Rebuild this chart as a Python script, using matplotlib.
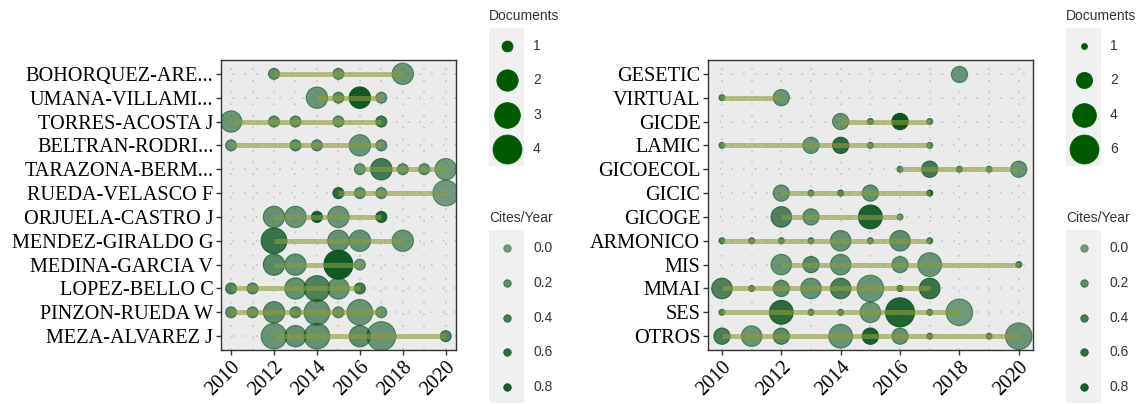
import numpy as np
import matplotlib.pyplot as plt
import matplotlib.colors as mcolors

# Left panel: authors
left_names = ["BOHORQUEZ-ARE...", "UMANA-VILLAMI...", "TORRES-ACOSTA J", "BELTRAN-RODRI...",
              "TARAZONA-BERM...", "RUEDA-VELASCO F", "ORJUELA-CASTRO J", "MENDEZ-GIRALDO G",
              "MEDINA-GARCIA V", "LOPEZ-BELLO C", "PINZON-RUEDA W", "MEZA-ALVAREZ J"]
left_years = [[2012, 2015, 2018], [2014, 2015, 2016, 2017], [2010, 2012, 2013, 2015, 2017],
              [2010, 2013, 2014, 2016, 2017], [2016, 2017, 2018, 2019, 2020], [2015, 2016, 2017, 2020],
              [2012, 2013, 2014, 2015, 2017], [2012, 2015, 2016, 2018], [2012, 2013, 2015, 2016],
              [2010, 2011, 2013, 2014, 2015, 2016], [2010, 2011, 2012, 2013, 2014, 2015, 2016, 2017],
              [2012, 2013, 2014, 2016, 2017, 2020]]
left_docs = [[1, 1, 2], [2, 1, 2, 1], [2, 1, 1, 1, 1], [1, 1, 1, 2, 1], [1, 2, 1, 1, 2], [1, 1, 1, 3],
             [2, 2, 1, 2, 1], [3, 2, 2, 2], [2, 2, 4, 1], [1, 1, 2, 3, 2, 1], [1, 1, 2, 1, 3, 1, 3, 1],
             [3, 2, 3, 2, 4, 1]]
left_tcpy = [[0.15, 0.1, 0.05], [0.05, 0.15, 0.85, 0.05], [0.05, 0.15, 0.15, 0.1, 0.4],
             [0.1, 0.2, 0.15, 0.05, 0.1], [0.05, 0.4, 0.1, 0.1, 0.0], [0.6, 0.1, 0.1, 0.0],
             [0.1, 0.05, 0.8, 0.05, 0.7], [0.5, 0.1, 0.1, 0.05], [0.2, 0.1, 0.85, 0.0],
             [0.3, 0.2, 0.1, 0.3, 0.1, 0.4], [0.15, 0.15, 0.15, 0.2, 0.1, 0.1, 0.05, 0.05],
             [0.05, 0.1, 0.1, 0.15, 0.05, 0.3]]

# Right panel: groups
right_names = ["GESETIC", "VIRTUAL", "GICDE", "LAMIC", "GICOECOL", "GICIC", "GICOGE",
               "ARMONICO", "MIS", "MMAI", "SES", "OTROS"]
right_years = [[2018], [2010, 2012], [2014, 2015, 2016, 2017], [2010, 2013, 2014, 2015, 2017],
               [2016, 2017, 2018, 2019, 2020], [2012, 2013, 2014, 2015, 2017], [2012, 2013, 2015, 2016],
               [2010, 2011, 2012, 2013, 2014, 2015, 2016, 2017], [2012, 2013, 2014, 2016, 2017, 2020],
               [2010, 2011, 2012, 2013, 2014, 2015, 2016, 2017],
               [2010, 2012, 2013, 2014, 2015, 2016, 2017, 2018],
               [2010, 2011, 2012, 2014, 2015, 2016, 2017, 2019, 2020]]
right_docs = [[2], [1, 2], [2, 1, 2, 1], [1, 2, 2, 1, 1], [1, 2, 1, 1, 2], [2, 1, 1, 2, 1], [3, 2, 4, 1],
              [1, 1, 1, 1, 3, 1, 3, 1], [3, 2, 3, 2, 4, 1], [3, 1, 2, 3, 3, 5, 1, 3],
              [1, 4, 1, 1, 3, 6, 1, 5], [2, 3, 2, 4, 2, 2, 1, 1, 5]]
right_tcpy = [[0.05], [0.2, 0.05], [0.05, 0.3, 0.9, 0.2], [0.2, 0.05, 0.6, 0.3, 0.2],
              [0.2, 0.4, 0.3, 0.3, 0.05], [0.05, 0.3, 0.6, 0.1, 0.7], [0.3, 0.1, 0.75, 0.1],
              [0.3, 0.3, 0.3, 0.3, 0.1, 0.3, 0.15, 0.3], [0.05, 0.2, 0.1, 0.1, 0.05, 0.3],
              [0.3, 0.3, 0.15, 0.1, 0.35, 0.05, 0.6, 0.5],
              [0.2, 0.6, 0.3, 0.3, 0.05, 0.7, 0.3, 0.0],
              [0.35, 0.05, 0.2, 0.05, 0.75, 0.1, 0.3, 0.3, 0.05]]

left_size_breaks = [1, 2, 3, 4]
right_size_breaks = [1, 2, 4, 6]
alpha_breaks = [0.0, 0.2, 0.4, 0.6, 0.8]

W, H = 1145, 404
PT = 72 / 100  # points per pixel
base = np.array(mcolors.to_rgb("#0b5520"))
line_col = "#8c9c3e"


def diam_px(d, dmax, dmin_px, dmax_px=29):
    return dmin_px + (dmax_px - dmin_px) * np.sqrt((np.asarray(d) - 1) / (dmax - 1))


def alpha_of(c):
    return 0.55 + 0.45 * np.clip(np.asarray(c) / 0.9, 0, 1)


def rgba(c):
    a = alpha_of(c)
    return [(base[0], base[1], base[2], ai) for ai in np.atleast_1d(a)]


def panel(rect, names, years, docs, tcpy, dmax, dmin_px):
    ax = fig.add_axes(rect)
    ax.set_facecolor("#ebebeb")
    n = len(names)
    ypos = np.arange(n)[::-1]
    for yr in range(2010, 2021):
        ax.axvline(yr, color="#c6c6c6", lw=1.2, ls=(0, (1, 6)), zorder=0)
    for y in ypos:
        ax.axhline(y, color="#c6c6c6", lw=1.2, ls=(0, (1, 6)), zorder=0)
    for y, yr, d, c in zip(ypos, years, docs, tcpy):
        s = (diam_px(d, dmax, dmin_px) * PT) ** 2
        cols = rgba(c)
        ax.scatter(yr, [y] * len(yr), s=s, c=cols, edgecolors=cols, linewidths=0.8, zorder=2)
        ax.plot([min(yr), max(yr)], [y, y], color=line_col, alpha=0.6, lw=3.6,
                solid_capstyle="butt", zorder=3)
    ax.set_xlim(2009.53, 2020.48)
    ax.set_ylim(-0.58, n - 0.42)
    ax.set_yticks(ypos)
    ax.set_yticklabels(names, fontfamily="Liberation Serif", fontsize=14.6, color="black")
    ax.set_xticks(range(2010, 2021, 2))
    ax.set_xticklabels([str(v) for v in range(2010, 2021, 2)], fontfamily="Liberation Serif",
                       fontsize=14.5, rotation=45, ha="right", va="top", rotation_mode="anchor")
    ax.tick_params(length=3.5, width=1, color="#333333", pad=2)
    for sp in ax.spines.values():
        sp.set_color("#333333")
        sp.set_linewidth(1)
    return ax


def legend(x0, breaks, dmax, dmin_px):
    # x0: left pixel of the key background; drawn in pixel coordinates
    kax = fig.add_axes([0, 0, 1, 1], facecolor="none")
    kax.set_xlim(0, W)
    kax.set_ylim(H, 0)
    kax.axis("off")
    lab = dict(fontfamily="Liberation Sans", fontsize=10, color="#333333", va="center")
    kax.text(x0, 16, "Documents", ha="left", **lab)
    kax.add_patch(plt.Rectangle((x0, 28), 35, 138, facecolor="#f0f0f0", edgecolor="none"))
    for b, py in zip(breaks, [46, 80, 115, 149]):
        s = (diam_px(b, dmax, dmin_px) * PT) ** 2
        kax.scatter([x0 + 17.5], [py], s=s, color="#005a00", edgecolors="#005a00", linewidths=0.5)
        kax.text(x0 + 44, py, str(b), ha="left", **lab)
    kax.text(x0, 218, "Cites/Year", ha="left", **lab)
    kax.add_patch(plt.Rectangle((x0, 230), 35, 173, facecolor="#f0f0f0", edgecolor="none"))
    for b, py in zip(alpha_breaks, [248, 283, 318, 352, 387]):
        col = rgba([b])[0]
        kax.scatter([x0 + 17.5], [py], s=(7.5 * PT) ** 2, color=col, edgecolors=col, linewidths=0.6)
        kax.text(x0 + 44, py, f"{b:.1f}", ha="left", **lab)


fig = plt.figure(figsize=(W / 100, H / 100), dpi=100)
panel([221 / W, 1 - 350 / H, 235 / W, 290 / H], left_names, left_years, left_docs, left_tcpy,
      max(left_size_breaks), 11)
panel([708 / W, 1 - 350 / H, 325 / W, 290 / H], right_names, right_years, right_docs, right_tcpy,
      max(right_size_breaks), 6)
legend(489, left_size_breaks, max(left_size_breaks), 11)
legend(1066, right_size_breaks, max(right_size_breaks), 6)

fig.savefig("out.png", dpi=100)
